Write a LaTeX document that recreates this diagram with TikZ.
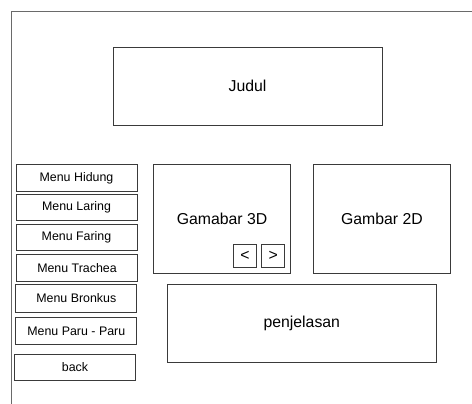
\documentclass[tikz,border=0pt]{standalone}
\usepackage{fontspec}
\setmainfont{Liberation Sans}
\usepackage{tikz}
\usetikzlibrary{positioning}
\definecolor{wireLine}{HTML}{3A3A3A}
\definecolor{frameLine}{HTML}{6A6A6A}
\tikzset{
  panel/.style={rectangle, draw=wireLine, line width=0.9pt, fill=white,
    align=center, font=\fontsize{15.8}{18}\selectfont, inner sep=0pt},
  menubtn/.style={rectangle, draw=wireLine, line width=0.9pt, fill=white,
    minimum width=121pt, minimum height=26.5pt, align=center,
    font=\fontsize{12.4}{14}\selectfont, inner sep=0pt},
  navbtn/.style={rectangle, draw=wireLine, line width=0.9pt, fill=white,
    minimum width=23pt, minimum height=23pt,
    font=\fontsize{15.8}{18}\selectfont, inner sep=0pt},
}

\begin{document}
\begin{tikzpicture}[x=1pt, y=-1pt]
    \useasboundingbox (0,0) rectangle (472,404);
    % screen frame (runs off the page at right and bottom)
    \draw[frameLine, line width=0.9pt] (11,404) -- (11,11) -- (472,11);
    % title
    \node[panel, minimum width=269pt, minimum height=78pt] (judul) at (247.5,86) {Judul};
    % menu column
    \node[menubtn] (hidung) at (76.5,178) {Menu Hidung};
    \node[menubtn, minimum height=25.3pt] (laring) at (76.5,207.3) {Menu Laring};
    \node[menubtn] (faring) at (76.5,237.4) {Menu Faring};
    \node[menubtn] (trachea) at (77,268) {Menu Trachea};
    \node[menubtn, minimum height=27.3pt] (bronkus) at (76.3,298.3) {Menu Bronkus};
    \node[menubtn, minimum height=27.4pt] (paru) at (76.3,331) {Menu Paru - Paru};
    \node[menubtn] (back) at (75,367.3) {back};
    % picture panels
    \node[panel, minimum width=137.4pt, minimum height=108.6pt] (gbr3d) at (222,219) {};
    \node[font=\fontsize{15.8}{18}\selectfont] (gbr3dtext) at (222,219) {Gamabar 3D};
    \node[navbtn] (prev) at (245,256.2) {<};
    \node[navbtn] (next) at (273.3,256.2) {>};
    \node[panel, minimum width=137.4pt, minimum height=108.6pt] (gbr2d) at (382,219) {Gambar 2D};
    % description
    \node[panel, minimum width=269pt, minimum height=78.4pt] (penjelasan) at (301.8,323.5) {penjelasan};
\end{tikzpicture}
\end{document}
